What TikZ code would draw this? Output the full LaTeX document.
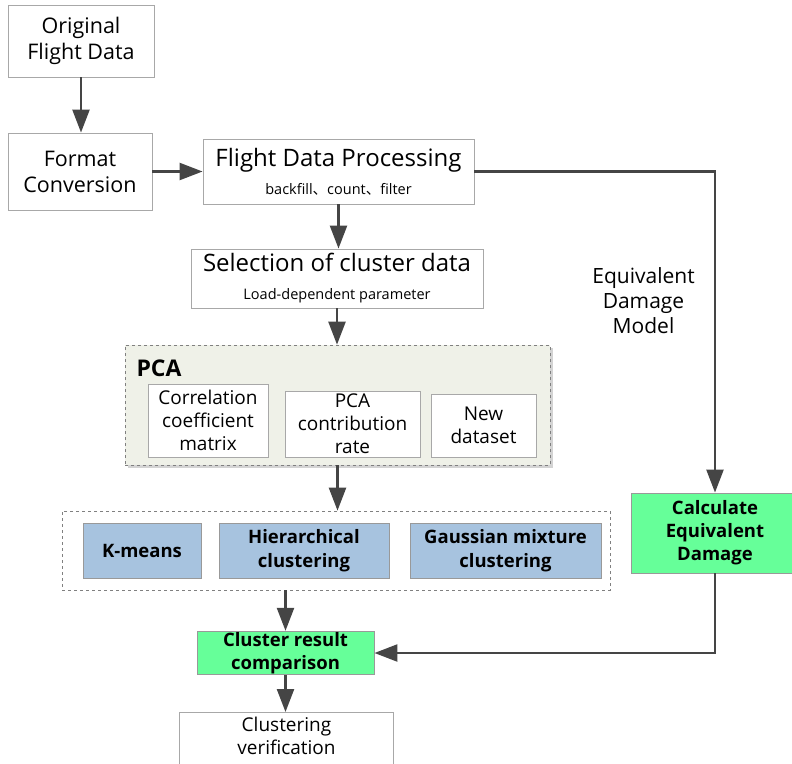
\documentclass[tikz,border=0pt]{standalone}
\usepackage{fontspec}
\setmainfont{Open Sans}
\newfontfamily\cjk{Noto Sans CJK SC}
\usetikzlibrary{arrows.meta, positioning, shadows}

\definecolor{flowline}{HTML}{454545}
\definecolor{boxline}{HTML}{A8A8A8}
\definecolor{pcafill}{HTML}{EFF1E8}
\definecolor{algofill}{HTML}{A7C3DF}
\definecolor{calcfill}{HTML}{66FF99}

\tikzset{
  box/.style={draw=boxline, line width=0.9pt, fill=white, align=center, inner sep=1pt,
              font=\fontsize{21.5}{26}\selectfont},
  inbox/.style={box, font=\fontsize{19}{23}\selectfont},
  algo/.style={box, fill=algofill, draw=gray!80, font=\bfseries\fontsize{18.5}{24}\selectfont},
  calc/.style={box, fill=calcfill, draw=gray!80, font=\bfseries\fontsize{18.5}{23}\selectfont},
  group/.style={draw=gray, dashed, line width=0.7pt},
  flow/.style={draw=flowline, line width=2.4pt, -{Triangle[length=23pt,width=17pt]}},
}

\begin{document}
\begin{tikzpicture}[x=1pt, y=-1pt]
  \useasboundingbox (0,0) rectangle (792,763);

  % data preparation
  \node[box, minimum width=146, minimum height=72] (orig) at (81,41) {Original\\Flight Data};
  \node[box, minimum width=144, minimum height=77] (fmt) at (80,171.5) {Format\\Conversion};
  \node[box, minimum width=271, minimum height=65, font=\fontsize{24}{30}\selectfont] (proc) at (338.5,171.5)
       {Flight Data Processing\\[-2pt]{\fontsize{14.5}{17}\selectfont backfill{\cjk 、}count{\cjk 、}filter}};
  \node[box, minimum width=292, minimum height=59, font=\fontsize{24}{30}\selectfont] (sel) at (337,278.5)
       {Selection of cluster data\\[-2pt]{\fontsize{14.5}{17}\selectfont Load-dependent parameter}};

  % PCA block
  \node[group, fill=pcafill, minimum width=425, minimum height=120,
        drop shadow={shadow xshift=3pt, shadow yshift=-3pt, opacity=0.35}] (pca) at (337.5,405) {};
  \node[font=\bfseries\fontsize{23}{26}\selectfont, inner sep=0pt] (pcatitle) at (159,368.5) {PCA};
  \node[inbox, minimum width=120, minimum height=73] (corr) at (208,420.5) {Correlation\\coefficient\\matrix};
  \node[inbox, minimum width=135, minimum height=66] (contrib) at (352.5,424) {PCA\\contribution\\rate};
  \node[inbox, minimum width=105, minimum height=63] (newds) at (483.5,425.5) {New\\dataset};

  % clustering methods
  \node[group, minimum width=548, minimum height=79] (clust) at (336,550.5) {};
  \node[algo, minimum width=118, minimum height=55] (kmeans) at (142,550.5) {K-means};
  \node[algo, minimum width=170, minimum height=55] (hier) at (304,550.5) {Hierarchical\\clustering};
  \node[algo, minimum width=191, minimum height=55] (gauss) at (505.5,550.5) {Gaussian mixture\\clustering};

  \node[calc, minimum width=177, minimum height=42] (crc) at (285.5,653) {Cluster result\\comparison};
  \node[inbox, draw=none, fill=none, minimum width=213, anchor=north, inner ysep=5pt, text depth=0pt]
       (verif) at (286.5,712) {Clustering\\verification};
  \draw[boxline, line width=0.9pt] ([yshift=-30pt]verif.south west) -- (verif.north west)
       -- (verif.north east) -- ([yshift=-30pt]verif.south east);

  % damage branch
  \node[calc, minimum width=168, minimum height=80] (ced) at (715,533) {Calculate\\Equivalent\\Damage};
  \node[align=center, font=\fontsize{21}{25}\selectfont] (eqlabel) at (643.5,301) {Equivalent\\Damage\\Model};

  % connectors
  \draw[flow] (orig.south) -- (orig.south |- fmt.north);
  \draw[flow] (fmt.east) -- (proc.west);
  \draw[flow] (proc.south) -- (proc.south |- sel.north);
  \draw[flow] (sel.south) -- (sel.south |- pca.north);
  \draw[flow] (pca.south) -- (pca.south |- clust.north);
  \draw[flow] (clust.south -| crc.north) -- (crc.north);
  \draw[flow] (crc.south) -- (crc.south |- verif.north);
  \draw[flow] (proc.east) -| (ced.north);
  \draw[flow] (ced.south) |- (crc.east);
\end{tikzpicture}
\end{document}
